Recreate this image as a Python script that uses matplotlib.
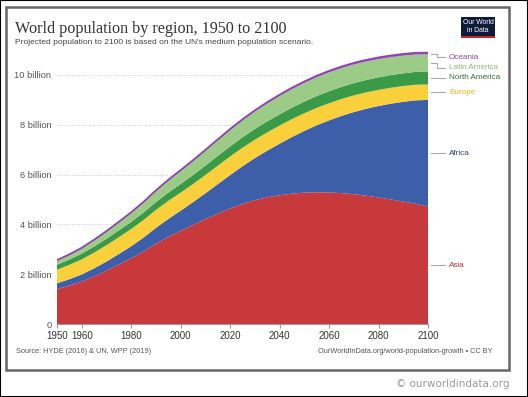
import numpy as np
import matplotlib.pyplot as plt
from matplotlib.patches import Rectangle

# === Data (billions) at 5-year steps ===
years = list(range(1950, 2101, 5))
asia = [1.405, 1.546, 1.705, 1.911, 2.142, 2.393, 2.640, 2.917, 3.226, 3.497,
        3.741, 3.977, 4.209, 4.434, 4.641, 4.823, 4.974, 5.090, 5.170, 5.235,
        5.275, 5.290, 5.283, 5.256, 5.212, 5.153, 5.082, 5.003, 4.918, 4.827, 4.720]
africa = [0.228, 0.254, 0.285, 0.322, 0.366, 0.418, 0.481, 0.554, 0.635, 0.721,
          0.811, 0.916, 1.039, 1.182, 1.341, 1.512, 1.688, 1.871, 2.070, 2.275,
          2.480, 2.690, 2.895, 3.100, 3.300, 3.490, 3.672, 3.845, 4.005, 4.155, 4.280]
europe = [0.549, 0.577, 0.605, 0.635, 0.657, 0.677, 0.694, 0.708, 0.721, 0.727,
          0.726, 0.729, 0.736, 0.742, 0.748, 0.745, 0.741, 0.736, 0.730, 0.720,
          0.710, 0.700, 0.690, 0.680, 0.670, 0.660, 0.650, 0.641, 0.634, 0.628, 0.622]
north_america = [0.200, 0.213, 0.229, 0.244, 0.258, 0.271, 0.286, 0.300, 0.316, 0.332,
                 0.347, 0.362, 0.378, 0.392, 0.405, 0.418, 0.430, 0.441, 0.451, 0.459,
                 0.467, 0.474, 0.481, 0.487, 0.493, 0.498, 0.503, 0.507, 0.511, 0.515, 0.520]
latin_america = [0.169, 0.193, 0.221, 0.254, 0.288, 0.325, 0.364, 0.404, 0.446, 0.486,
                 0.526, 0.561, 0.595, 0.625, 0.654, 0.679, 0.700, 0.718, 0.733, 0.744,
                 0.751, 0.755, 0.755, 0.752, 0.746, 0.738, 0.729, 0.718, 0.706, 0.693, 0.680]
oceania = [0.013, 0.014, 0.016, 0.018, 0.020, 0.021, 0.023, 0.025, 0.027, 0.029,
           0.031, 0.034, 0.037, 0.040, 0.043, 0.045, 0.048, 0.051, 0.054, 0.056,
           0.058, 0.060, 0.062, 0.064, 0.066, 0.067, 0.069, 0.070, 0.072, 0.073, 0.075]

regions = ["Asia", "Africa", "Europe", "North America", "Latin America", "Oceania"]
fill_colors = ["#c8393b", "#3d5ea8", "#f9cf3b", "#3b9a48", "#9ccb88", "#9b59b6"]
label_colors = ["#b5302f", "#2c3d78", "#e8b61f", "#2f6e33", "#86bc71", "#8e44ad"]

xticks = [1950, 1960, 1980, 2000, 2020, 2040, 2060, 2080, 2100]
yticks = [0, 2, 4, 6, 8, 10]
ylabels = ["0", "2 billion", "4 billion", "6 billion", "8 billion", "10 billion"]

W, H = 528, 397
fig = plt.figure(figsize=(W / 100, H / 100), dpi=100)
fig.patch.set_facecolor("white")

def fx(px):
    return px / W

def fy(py):
    return 1 - py / H

# plot area: 1950 at x=57, 2100 at x=428, 0 at y=324, 10 at y=75
y_top = 324 - 11 * (324 - 75) / 10
ax = fig.add_axes([fx(57), fy(324), fx(428) - fx(57), fy(y_top) - fy(324)])

series = [asia, africa, europe, north_america, latin_america, oceania]
ax.stackplot(years, *series, colors=fill_colors, linewidth=0)
top = np.sum(series, axis=0)
ax.plot(years, top, color="#8e44ad", lw=1.3)

ax.set_xlim(1950, 2100)
ax.set_ylim(0, 11)
ax.set_xticks(xticks)
ax.set_xticklabels([str(t) for t in xticks], fontsize=7, color="#333333",
                   family="Liberation Sans")
ax.set_yticks(yticks)
ax.set_yticklabels(ylabels, fontsize=6.7, color="#555555", family="Liberation Sans")
ax.tick_params(axis="y", length=0, pad=4)
ax.tick_params(axis="x", length=3, color="#999999", pad=2)
ax.grid(axis="y", color="#cccccc", linestyle=(0, (1, 1.5)), lw=0.7)
ax.set_axisbelow(True)
for s in ["top", "right", "left"]:
    ax.spines[s].set_visible(False)
ax.spines["bottom"].set_color("#999999")
ax.spines["bottom"].set_linewidth(0.8)

# right-hand labels with connector lines
last = [s[-1] for s in series]
cum = np.cumsum(last)
mids = cum - np.array(last) / 2
pos = list(mids)
cap = 10.72
gap = 0.42
for i in range(len(pos) - 1, -1, -1):
    limit = cap if i == len(pos) - 1 else pos[i + 1] - gap
    pos[i] = min(mids[i], limit)

x0, xb, x1, xt = 2101.2, 2103.6, 2106.9, 2108.5
for name, c, m, p in zip(regions, label_colors, mids, pos):
    if abs(m - p) > 0.05:
        ax.plot([x0, xb, xb, x1], [m, m, p, p], color="#aaaaaa", lw=0.8, clip_on=False)
    else:
        ax.plot([x0, x1], [p, p], color="#aaaaaa", lw=0.8, clip_on=False)
    ax.text(xt, p, name, color=c, fontsize=5.9, va="center", ha="left",
            family="Liberation Sans", clip_on=False)

# titles
fig.text(fx(15), fy(33), "World population by region, 1950 to 2100",
         fontsize=11.6, family="Liberation Serif", color="#333333", va="baseline")
fig.text(fx(15), fy(44), "Projected population to 2100 is based on the UN's medium population scenario.",
         fontsize=6.0, family="Liberation Sans", color="#444444", va="baseline")

# footer
fig.text(fx(16), fy(353), "Source: HYDE (2016) & UN, WPP (2019)",
         fontsize=5.3, family="Liberation Sans", color="#555555", va="baseline")
fig.text(fx(492), fy(353), "OurWorldInData.org/world-population-growth \u2022 CC BY",
         fontsize=5.3, family="Liberation Sans", color="#555555", va="baseline", ha="right")
fig.text(fx(510), fy(387), "\u00a9 ourworldindata.org",
         fontsize=7.5, family="DejaVu Sans", color="#999999", va="baseline", ha="right")

# logo
fig.add_artist(Rectangle((fx(461), fy(38)), fx(34), fy(17) - fy(38),
                         transform=fig.transFigure, facecolor="#0d1a3a", edgecolor="none"))
fig.add_artist(Rectangle((fx(461), fy(38)), fx(34), fy(36) - fy(38),
                         transform=fig.transFigure, facecolor="#cc2229", edgecolor="none"))
fig.text(fx(478), fy(26.5), "Our World\nin Data", fontsize=4.9, color="white",
         ha="center", va="center", family="Liberation Sans", linespacing=1.0)

# frames
fig.add_artist(Rectangle((fx(6), fy(370)), fx(503), fy(7) - fy(370),
                         transform=fig.transFigure, facecolor="none",
                         edgecolor="#666666", lw=1.8))
fig.add_artist(Rectangle((0, 0), 1, 1, transform=fig.transFigure, facecolor="none",
                         edgecolor="black", lw=1.5))

fig.savefig("out.png", dpi=100)
